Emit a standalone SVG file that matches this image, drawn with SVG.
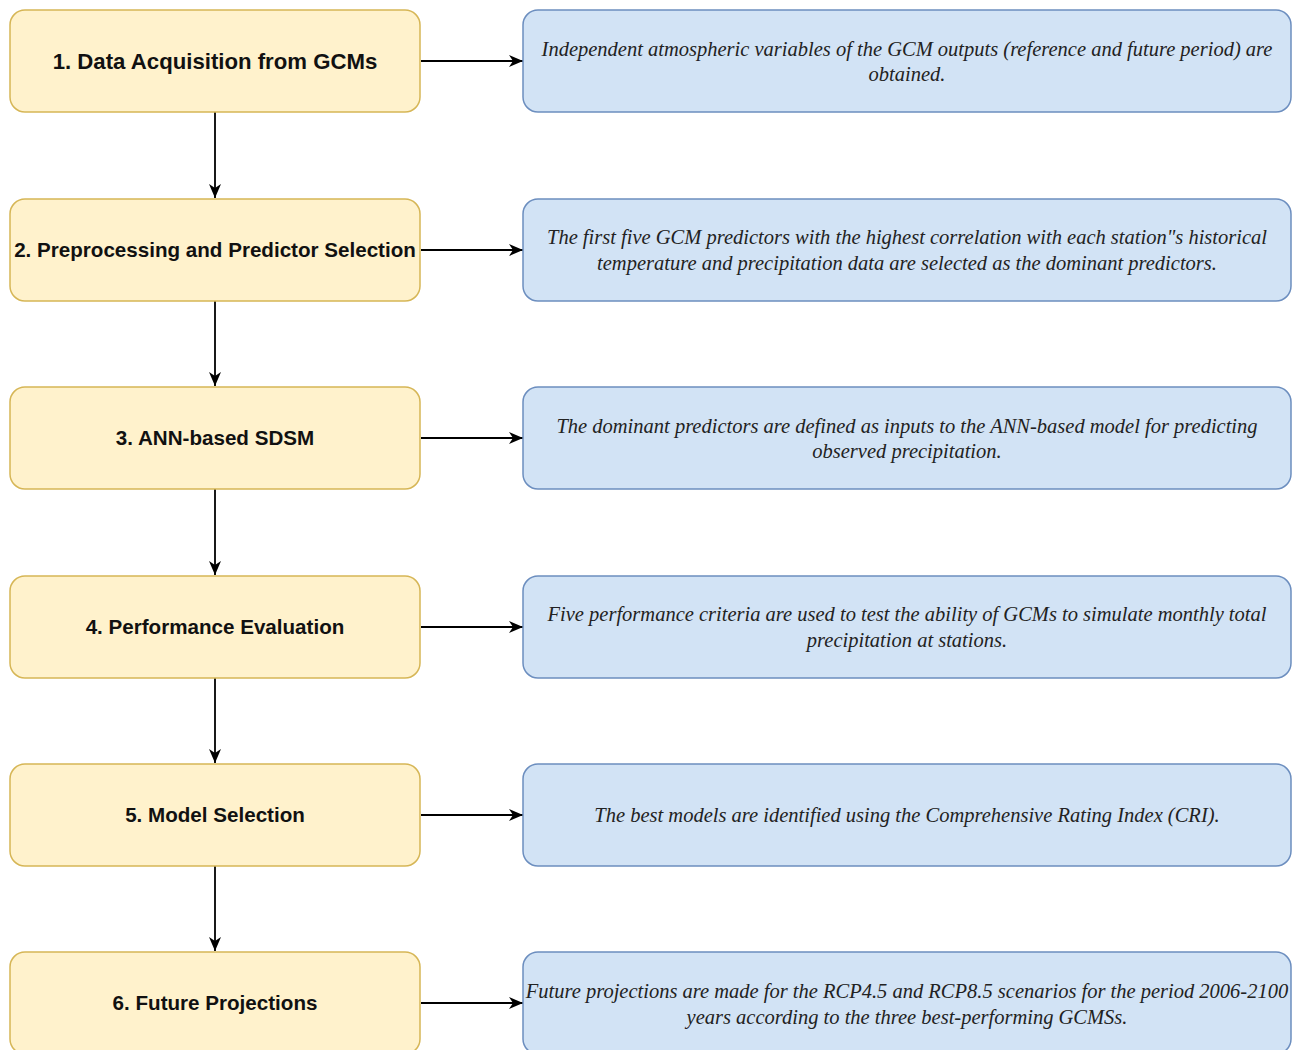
<svg xmlns="http://www.w3.org/2000/svg" width="1292" height="1050" viewBox="0 0 1292 1050">
<defs>
<marker id="ah" viewBox="0 0 14 12" refX="14" refY="6" markerWidth="14" markerHeight="12" markerUnits="userSpaceOnUse" orient="auto">
<path d="M0,0 L14,6 L0,12 L4,6 Z" fill="#000"/>
</marker>
<style>
.step{fill:#fff2cc;stroke:#d6b656;stroke-width:1.5}
.desc{fill:#d2e3f5;stroke:#6c8ebf;stroke-width:1.5}
.lt{font-family:"Liberation Sans",Arial,sans-serif;font-weight:bold;font-size:20.6px;fill:#111;text-anchor:middle;dominant-baseline:central}
.rt{font-family:"Liberation Serif","Times New Roman",serif;font-style:italic;font-size:20.5px;fill:#222;text-anchor:middle;dominant-baseline:central}
.c{stroke:#000;stroke-width:1.8;fill:none;marker-end:url(#ah)}
</style>
</defs>
<rect width="1292" height="1050" fill="#fff"/>
<g id="connectors">
<path class="c" d="M421,61 H523"/>
<path class="c" d="M421,250 H523"/>
<path class="c" d="M421,438 H523"/>
<path class="c" d="M421,627 H523"/>
<path class="c" d="M421,815 H523"/>
<path class="c" d="M421,1003 H523"/>
<path class="c" d="M215,112 V198"/>
<path class="c" d="M215,301 V386"/>
<path class="c" d="M215,489 V575"/>
<path class="c" d="M215,678 V763"/>
<path class="c" d="M215,866 V951"/>
</g>
<g id="step1"><rect class="step" x="10" y="10" width="410" height="102" rx="15"/><text class="lt" x="215" y="61" style="font-size:22.2px">1. Data Acquisition from GCMs</text></g>
<g id="step2"><rect class="step" x="10" y="199" width="410" height="102" rx="15"/><text class="lt" x="215" y="249">2. Preprocessing and Predictor Selection</text></g>
<g id="step3"><rect class="step" x="10" y="387" width="410" height="102" rx="15"/><text class="lt" x="215" y="437">3. ANN-based SDSM</text></g>
<g id="step4"><rect class="step" x="10" y="576" width="410" height="102" rx="15"/><text class="lt" x="215" y="626">4. Performance Evaluation</text></g>
<g id="step5"><rect class="step" x="10" y="764" width="410" height="102" rx="15"/><text class="lt" x="215" y="814">5. Model Selection</text></g>
<g id="step6"><rect class="step" x="10" y="952" width="410" height="102" rx="15"/><text class="lt" x="215" y="1002">6. Future Projections</text></g>
<g id="desc1"><rect class="desc" x="523" y="10" width="768" height="102" rx="15"/><text class="rt" x="907" y="49">Independent atmospheric variables of the GCM outputs (reference and future period) are</text><text class="rt" x="907" y="74">obtained.</text></g>
<g id="desc2"><rect class="desc" x="523" y="199" width="768" height="102" rx="15"/><text class="rt" x="907" y="237">The first five GCM predictors with the highest correlation with each station"s historical</text><text class="rt" x="907" y="263">temperature and precipitation data are selected as the dominant predictors.</text></g>
<g id="desc3"><rect class="desc" x="523" y="387" width="768" height="102" rx="15"/><text class="rt" x="907" y="426">The dominant predictors are defined as inputs to the ANN-based model for predicting</text><text class="rt" x="907" y="451">observed precipitation.</text></g>
<g id="desc4"><rect class="desc" x="523" y="576" width="768" height="102" rx="15"/><text class="rt" x="907" y="614">Five performance criteria are used to test the ability of GCMs to simulate monthly total</text><text class="rt" x="907" y="640">precipitation at stations.</text></g>
<g id="desc5"><rect class="desc" x="523" y="764" width="768" height="102" rx="15"/><text class="rt" x="907" y="815">The best models are identified using the Comprehensive Rating Index (CRI).</text></g>
<g id="desc6"><rect class="desc" x="523" y="952" width="768" height="102" rx="15"/><text class="rt" x="907" y="991">Future projections are made for the RCP4.5 and RCP8.5 scenarios for the period 2006-2100</text><text class="rt" x="907" y="1017">years according to the three best-performing GCMSs.</text></g>
</svg>
